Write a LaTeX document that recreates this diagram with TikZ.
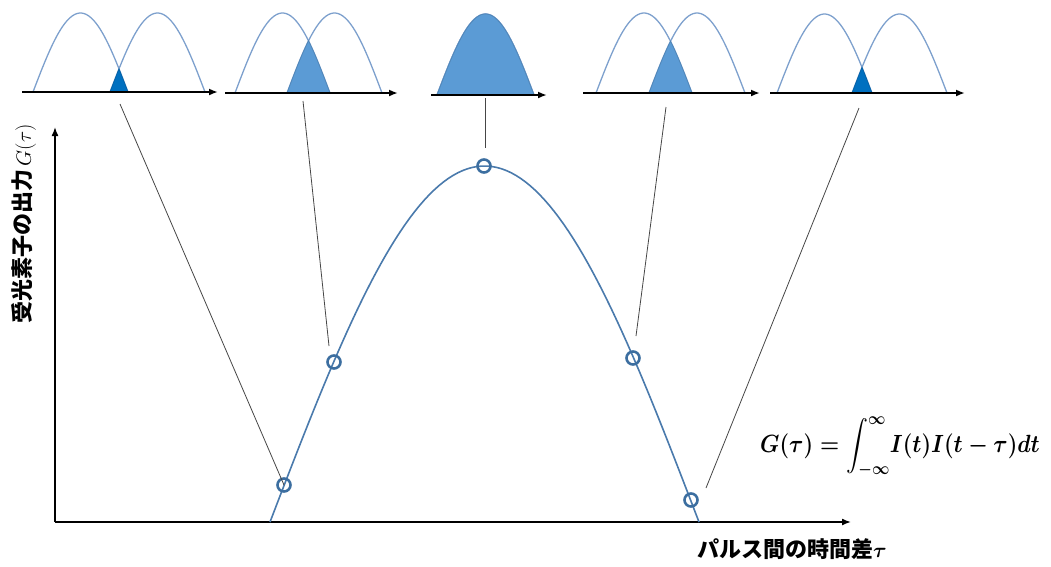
\documentclass[tikz,border=0pt]{standalone}
\usepackage{exscale}
\usepackage{fontspec}
\usepackage{tikz}
\usetikzlibrary{arrows.meta, positioning, calc}
\newfontfamily\jpfont{Noto Sans CJK JP}
\definecolor{ArchBlue}{RGB}{125, 160, 205}
\definecolor{CurveBlue}{RGB}{74, 122, 172}
\definecolor{DotBlue}{RGB}{60, 110, 160}
\definecolor{DeepBlue}{RGB}{0, 112, 192}
\definecolor{MidBlue}{RGB}{91, 155, 213}
\definecolor{LeaderGray}{RGB}{70, 70, 70}
\newcommand{\gformula}{\scalebox{0.88}[1]{\boldmath$\displaystyle G(\tau)=\int_{-\infty}^{\infty}\!I(t)I(t-\tau)dt$}}
\newcommand{\btau}{\mbox{\boldmath$\tau$}}

\begin{document}
\begin{tikzpicture}[
        x=1pt, y=-1pt,
        arch/.style={draw=ArchBlue, line width=1.3pt},
        overlap/.style={fill=#1, draw=#1!85!black, line width=0.6pt},
        paxis/.style={-{Latex[length=9pt, width=7pt]}, line width=1.8pt, black},
        axis/.style={-{Latex[length=9pt, width=7pt]}, line width=1.5pt, black},
        curve/.style={draw=CurveBlue, line width=1.6pt},
        dot/.style={circle, draw=DotBlue, line width=2.6pt, inner sep=0pt, minimum size=13pt},
        leader/.style={draw=LeaderGray, line width=0.8pt},
        jplabel/.style={font=\fontsize{22}{26}\selectfont\jpfont\bfseries, inner sep=0pt},
        eqlabel/.style={font=\fontsize{23}{27}\selectfont, inner sep=0pt}
    ]
        \useasboundingbox (0,0) rectangle (1051,566);

        % pulse pairs at the top
        \foreach \xs/\xe/\yb/\pa/\pb/\ww/\hh/\col in {22/218/92/33/110/95/79/DeepBlue, 225/398/93/235/287/95/80/MidBlue, 431/547/95/437/437/97/81/MidBlue, 583/760/93/596/649/96/80/MidBlue, 770/965/93/777/852/95/79/DeepBlue}{
            \pgfmathsetmacro\xc{(\pa+\ww+\pb)/2}
            \pgfmathsetmacro\pe{\pa+\ww}
            \pgfmathsetmacro\qe{\pb+\ww}
            \pgfmathsetmacro\kk{180/\ww}
            \draw[arch] plot[domain=\pa:\pe, samples=40] (\x, {\yb-\hh*sin(\kk*(\x-\pa))});
            \draw[arch] plot[domain=\pb:\qe, samples=40] (\x, {\yb-\hh*sin(\kk*(\x-\pb))});
            \filldraw[overlap=\col] plot[domain=\pb:\xc, samples=30] (\x, {\yb-\hh*sin(\kk*(\x-\pb))})
                -- plot[domain=\xc:\pe, samples=30] (\x, {\yb-\hh*sin(\kk*(\x-\pa))}) -- cycle;
            \draw[paxis] (\xs,\yb) -- (\xe,\yb);
        }

        % axes
        \coordinate (origin) at (55,522);
        \coordinate (xend) at (851,522);
        \coordinate (yend) at (55,127);
        \draw[axis] (origin) -- (xend);
        \draw[axis] (origin) -- (yend);

        % correlation curve
        \draw[curve] plot[domain=270:699, samples=90] (\x, {522-356*cos(0.4196*(\x-484.5))});
        \node[dot] (dot1) at (284,485) {};
        \node[dot] (dot2) at (334,362) {};
        \node[dot] (dot3) at (484,166) {};
        \node[dot] (dot4) at (633,358) {};
        \node[dot] (dot5) at (691,500) {};

        % leaders from pulse pairs to the curve
        \coordinate (top1) at (120,104);
        \coordinate (top2) at (303,101);
        \coordinate (top3) at (485,98);
        \coordinate (top4) at (666,107);
        \coordinate (top5) at (859,108);
        \coordinate (foot2) at (329,346);
        \coordinate (foot3) at (485,148);
        \coordinate (foot4) at (636,336);
        \coordinate (foot5) at (706,488);
        \draw[leader] (top1) -- (dot1.center);
        \draw[leader] (top2) -- (foot2);
        \draw[leader] (top3) -- (foot3);
        \draw[leader] (top4) -- (foot4);
        \draw[leader] (top5) -- (foot5);

        % labels
        \node[jplabel, rotate=90] (ylabel) at (24,224) {受光素子の出力\,{\mdseries$G(\tau)$}};
        \node[jplabel] (xlabel) at (792,549) {パルス間の時間差\btau};
        \node[eqlabel, anchor=base west] (formula) at (760,452) {\gformula};
    \end{tikzpicture}
\end{document}
